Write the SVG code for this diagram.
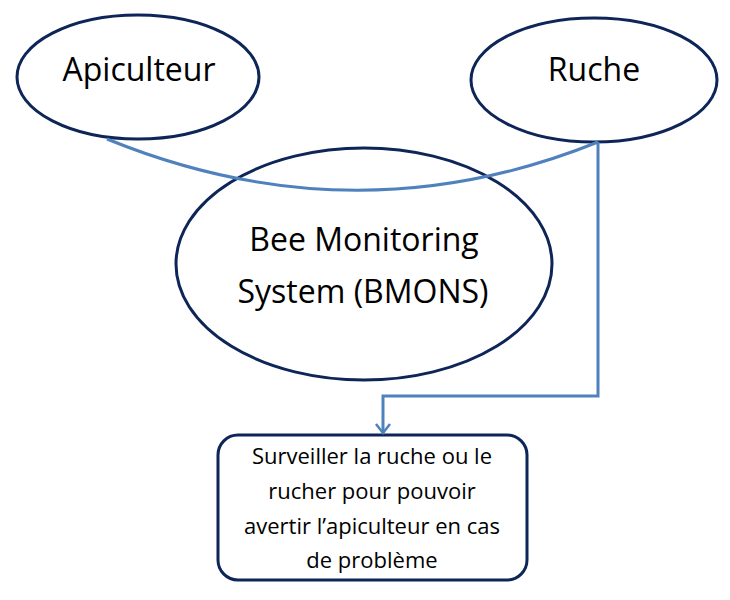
<svg xmlns="http://www.w3.org/2000/svg" width="730" height="600" viewBox="0 0 730 600">
<defs>
<style>
.node{fill:#ffffff;stroke:#0d2557;stroke-width:3}
.conn{fill:none;stroke:#4f81bd;stroke-width:3}
.t{font-family:"Open Sans","Liberation Sans",sans-serif;fill:#000;text-anchor:middle}
.big{font-size:32px}
.small{font-size:22px}
</style>
<marker id="arr" viewBox="0 0 16 16" refX="13" refY="8" markerWidth="16" markerHeight="16" markerUnits="userSpaceOnUse" orient="auto">
<path d="M4,1 L13,8 L4,15" fill="none" stroke="#4f81bd" stroke-width="2.5"/>
</marker>
</defs>
<rect width="730" height="600" fill="#ffffff"/>
<g id="bmons">
<ellipse class="node" cx="364" cy="264" rx="188" ry="116"/>
<text class="t big" x="364" y="251">Bee Monitoring</text>
<text class="t big" x="363" y="303">System (BMONS)</text>
</g>
<g id="apiculteur">
<ellipse class="node" cx="138" cy="77" rx="121" ry="62"/>
<text class="t big" x="139" y="81">Apiculteur</text>
</g>
<g id="ruche">
<ellipse class="node" cx="594" cy="80" rx="123" ry="62"/>
<text class="t big" x="594" y="81">Ruche</text>
</g>
<g id="objectif">
<rect class="node" x="218" y="435" width="309" height="145" rx="20" ry="20"/>
<text class="t small" x="372" y="464">Surveiller la ruche ou le</text>
<text class="t small" x="372" y="499">rucher pour pouvoir</text>
<text class="t small" x="372" y="534">avertir l’apiculteur en cas</text>
<text class="t small" x="372" y="568">de problème</text>
</g>
<g id="connectors">
<path class="conn" d="M107,139 Q355,240 598,142"/>
<path class="conn" d="M598,142 L598,396 L383,396 L383,433" marker-end="url(#arr)"/>
</g>
</svg>
